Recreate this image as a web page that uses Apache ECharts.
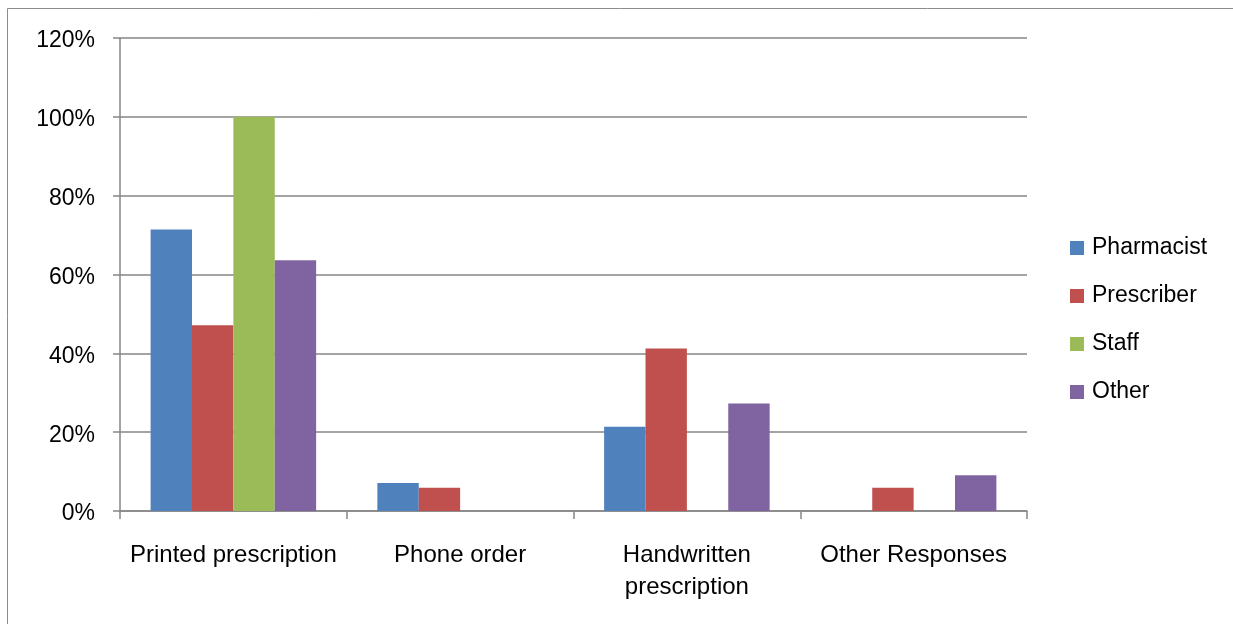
<!DOCTYPE html>
<html>
<head>
<meta charset="utf-8">
<script src="https://cdn.jsdelivr.net/npm/echarts@6/dist/echarts.min.js"></script>
<style>
  html, body { margin: 0; padding: 0; background: #fff; }
  #chart { width: 1233px; height: 624px; }
</style>
</head>
<body>
<div id="chart"></div>
<script>
// Share of responses by prescription type, per respondent group (%)
const categories = ['Printed prescription', 'Phone order', 'Handwritten\nprescription', 'Other Responses'];
const pharmacist = [71.4, 7.1, 21.4, 0];
const prescriber = [47.1, 5.9, 41.2, 5.9];
const staff = [100, 0, 0, 0];
const other = [63.6, 0, 27.3, 9.1];
const yTicks = { min: 0, max: 120, interval: 20 };

const FONT = 'Liberation Sans';
const axisGray = '#868686';

const chart = echarts.init(document.getElementById('chart'));

function bar(name, data, color) {
  return {
    name, type: 'bar', data,
    barGap: '0%', barCategoryGap: '27%',
    itemStyle: { color },
    emphasis: { disabled: true }
  };
}

chart.setOption({
  animation: false,
  textStyle: { fontFamily: FONT },
  graphic: [{
    type: 'rect',
    shape: { x: 7.5, y: 8.5, width: 1240, height: 640 },
    style: { fill: 'none', stroke: '#8c8c8c', lineWidth: 1 },
    silent: true
  }],
  grid: { left: 120, top: 38, width: 907, height: 473 },
  legend: {
    orient: 'vertical',
    left: 1070, top: 236, padding: 0,
    itemWidth: 14, itemHeight: 14, itemGap: 24,
    icon: 'rect',
    textStyle: { fontSize: 23, lineHeight: 24, color: '#000', fontFamily: FONT, padding: [0, 0, 0, 3] },
    data: ['Pharmacist', 'Prescriber', 'Staff', 'Other']
  },
  xAxis: {
    type: 'category',
    data: categories,
    axisLine: { lineStyle: { color: axisGray, width: 1.5 } },
    axisTick: { show: true, length: 8, lineStyle: { color: axisGray, width: 1.5 } },
    axisLabel: { fontSize: 24, color: '#000', margin: 28, lineHeight: 32, interval: 0 }
  },
  yAxis: {
    type: 'value',
    min: yTicks.min, max: yTicks.max, interval: yTicks.interval,
    axisLine: { show: true, lineStyle: { color: axisGray, width: 1.5 } },
    axisTick: { show: true, length: 7, lineStyle: { color: axisGray, width: 1.5 } },
    splitLine: { lineStyle: { color: axisGray, width: 1.5 } },
    axisLabel: {
      fontSize: 23, color: '#000', margin: 25,
      verticalAlign: 'top', lineHeight: 6,
      formatter: '{value}%'
    }
  },
  series: [
    bar('Pharmacist', pharmacist, '#4F81BD'),
    bar('Prescriber', prescriber, '#C0504D'),
    bar('Staff', staff, '#9BBB59'),
    bar('Other', other, '#8064A2')
  ]
});
</script>
</body>
</html>
